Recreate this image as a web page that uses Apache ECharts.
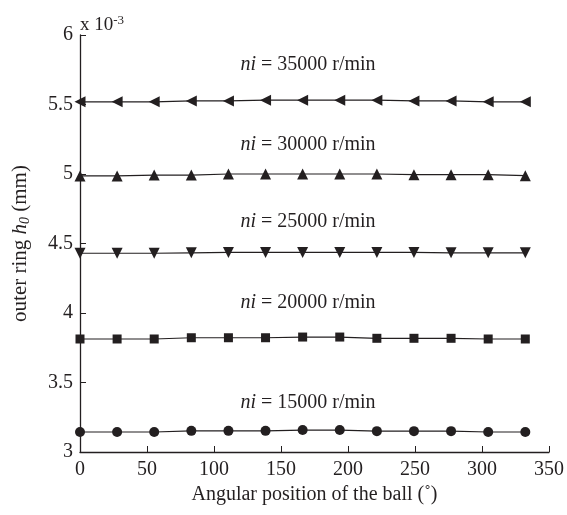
<!DOCTYPE html>
<html>
<head>
<meta charset="utf-8">
<script src="https://cdn.jsdelivr.net/npm/echarts@6/dist/echarts.min.js"></script>
<style>html,body{margin:0;padding:0;background:#fff;}#c{width:567px;height:515px;}</style>
</head>
<body>
<div id="c"></div>
<script>
var angles = [0, 27.69, 55.38, 83.08, 110.77, 138.46, 166.15, 193.85, 221.54, 249.23, 276.92, 304.62, 332.31];
var h15000 = [3.144, 3.144, 3.144, 3.152, 3.152, 3.152, 3.158, 3.158, 3.150, 3.150, 3.150, 3.144, 3.144];
var h20000 = [3.813, 3.813, 3.813, 3.822, 3.822, 3.822, 3.827, 3.827, 3.818, 3.818, 3.818, 3.813, 3.813];
var h25000 = [4.430, 4.430, 4.430, 4.433, 4.436, 4.436, 4.436, 4.436, 4.436, 4.436, 4.433, 4.433, 4.433];
var h30000 = [4.986, 4.986, 4.992, 4.992, 5.000, 5.000, 5.000, 5.000, 5.000, 4.995, 4.995, 4.995, 4.988];
var h35000 = [5.519, 5.519, 5.519, 5.526, 5.526, 5.531, 5.531, 5.531, 5.531, 5.526, 5.526, 5.519, 5.519];
var speeds = ['15000', '20000', '25000', '30000', '35000'];
var xTicks = [0, 50, 100, 150, 200, 250, 300, 350];
var yTicks = [3, 3.5, 4, 4.5, 5, 5.5, 6];

var FONT = '"Liberation Serif", "DejaVu Serif", serif';
var INK = '#231f20';
var FS = 20;

function pairs(vals) { return angles.map(function (a, i) { return [a, vals[i]]; }); }

var seriesDefs = [
  { data: h15000, symbol: 'circle', size: 10, rot: 0 },
  { data: h20000, symbol: 'rect', size: 9, rot: 0 },
  { data: h25000, symbol: 'triangle', size: 11, rot: 180 },
  { data: h30000, symbol: 'triangle', size: 11, rot: 0 },
  { data: h35000, symbol: 'triangle', size: 11, rot: 90 }
];

var labelY = [403, 303, 222, 145, 65];

var chart = echarts.init(document.getElementById('c'), null, { renderer: 'canvas' });
chart.setOption({
  backgroundColor: '#fff',
  animation: false,
  grid: { left: 80, right: 15, top: 35, bottom: 63, containLabel: false },
  xAxis: {
    type: 'value', min: xTicks[0], max: xTicks[xTicks.length - 1], interval: 50,
    name: 'Angular position of the ball (˚)', nameLocation: 'middle', nameGap: 33,
    nameTextStyle: { fontFamily: FONT, fontSize: FS, color: INK },
    axisLine: { lineStyle: { color: INK, width: 1.3 } },
    axisTick: { inside: true, length: 6, lineStyle: { color: INK } },
    axisLabel: { fontFamily: FONT, fontSize: FS, color: INK, margin: 8 },
    splitLine: { show: false }
  },
  yAxis: {
    type: 'value', min: yTicks[0], max: yTicks[yTicks.length - 1], interval: 0.5,
    name: 'outer ring {i|h}{s|0} (mm)', nameLocation: 'middle', nameGap: 48,
    nameTextStyle: {
      fontFamily: FONT, fontSize: 21, color: INK,
      rich: {
        i: { fontFamily: FONT, fontSize: 21, fontStyle: 'italic', color: INK },
        s: { fontFamily: FONT, fontSize: 14, fontStyle: 'italic', color: INK, verticalAlign: 'bottom', padding: [9, 0, 0, 0] }
      }
    },
    axisLine: { show: true, lineStyle: { color: INK, width: 1.3 } },
    axisTick: { show: true, inside: true, length: 6, lineStyle: { color: INK } },
    axisLabel: { fontFamily: FONT, fontSize: FS, color: INK, margin: 7 },
    splitLine: { show: false }
  },
  series: seriesDefs.map(function (d, k) {
    return {
      type: 'line', name: speeds[k], data: pairs(d.data),
      symbol: d.symbol, symbolSize: d.size, symbolRotate: d.rot, showSymbol: true,
      lineStyle: { color: INK, width: 1.2 },
      itemStyle: { color: INK, borderWidth: 0 },
      z: 3
    };
  }),
  graphic: [
    {
      type: 'text', left: 80, top: 14,
      style: {
        text: 'x 10{sup|-3}', fontFamily: FONT, fontSize: 19, fill: INK,
        rich: { sup: { fontFamily: FONT, fontSize: 13, fill: INK, verticalAlign: 'top', padding: [0, 0, 9, 0] } }
      }
    }
  ].concat(speeds.map(function (s, k) {
    return {
      type: 'text', x: 308, y: labelY[k],
      style: {
        text: '{i|ni} = ' + s + ' r/min',
        fontFamily: FONT, fontSize: FS, fill: INK, align: 'center', verticalAlign: 'middle',
        rich: { i: { fontFamily: FONT, fontSize: FS, fontStyle: 'italic', fill: INK } }
      }
    };
  }))
});
</script>
</body>
</html>
